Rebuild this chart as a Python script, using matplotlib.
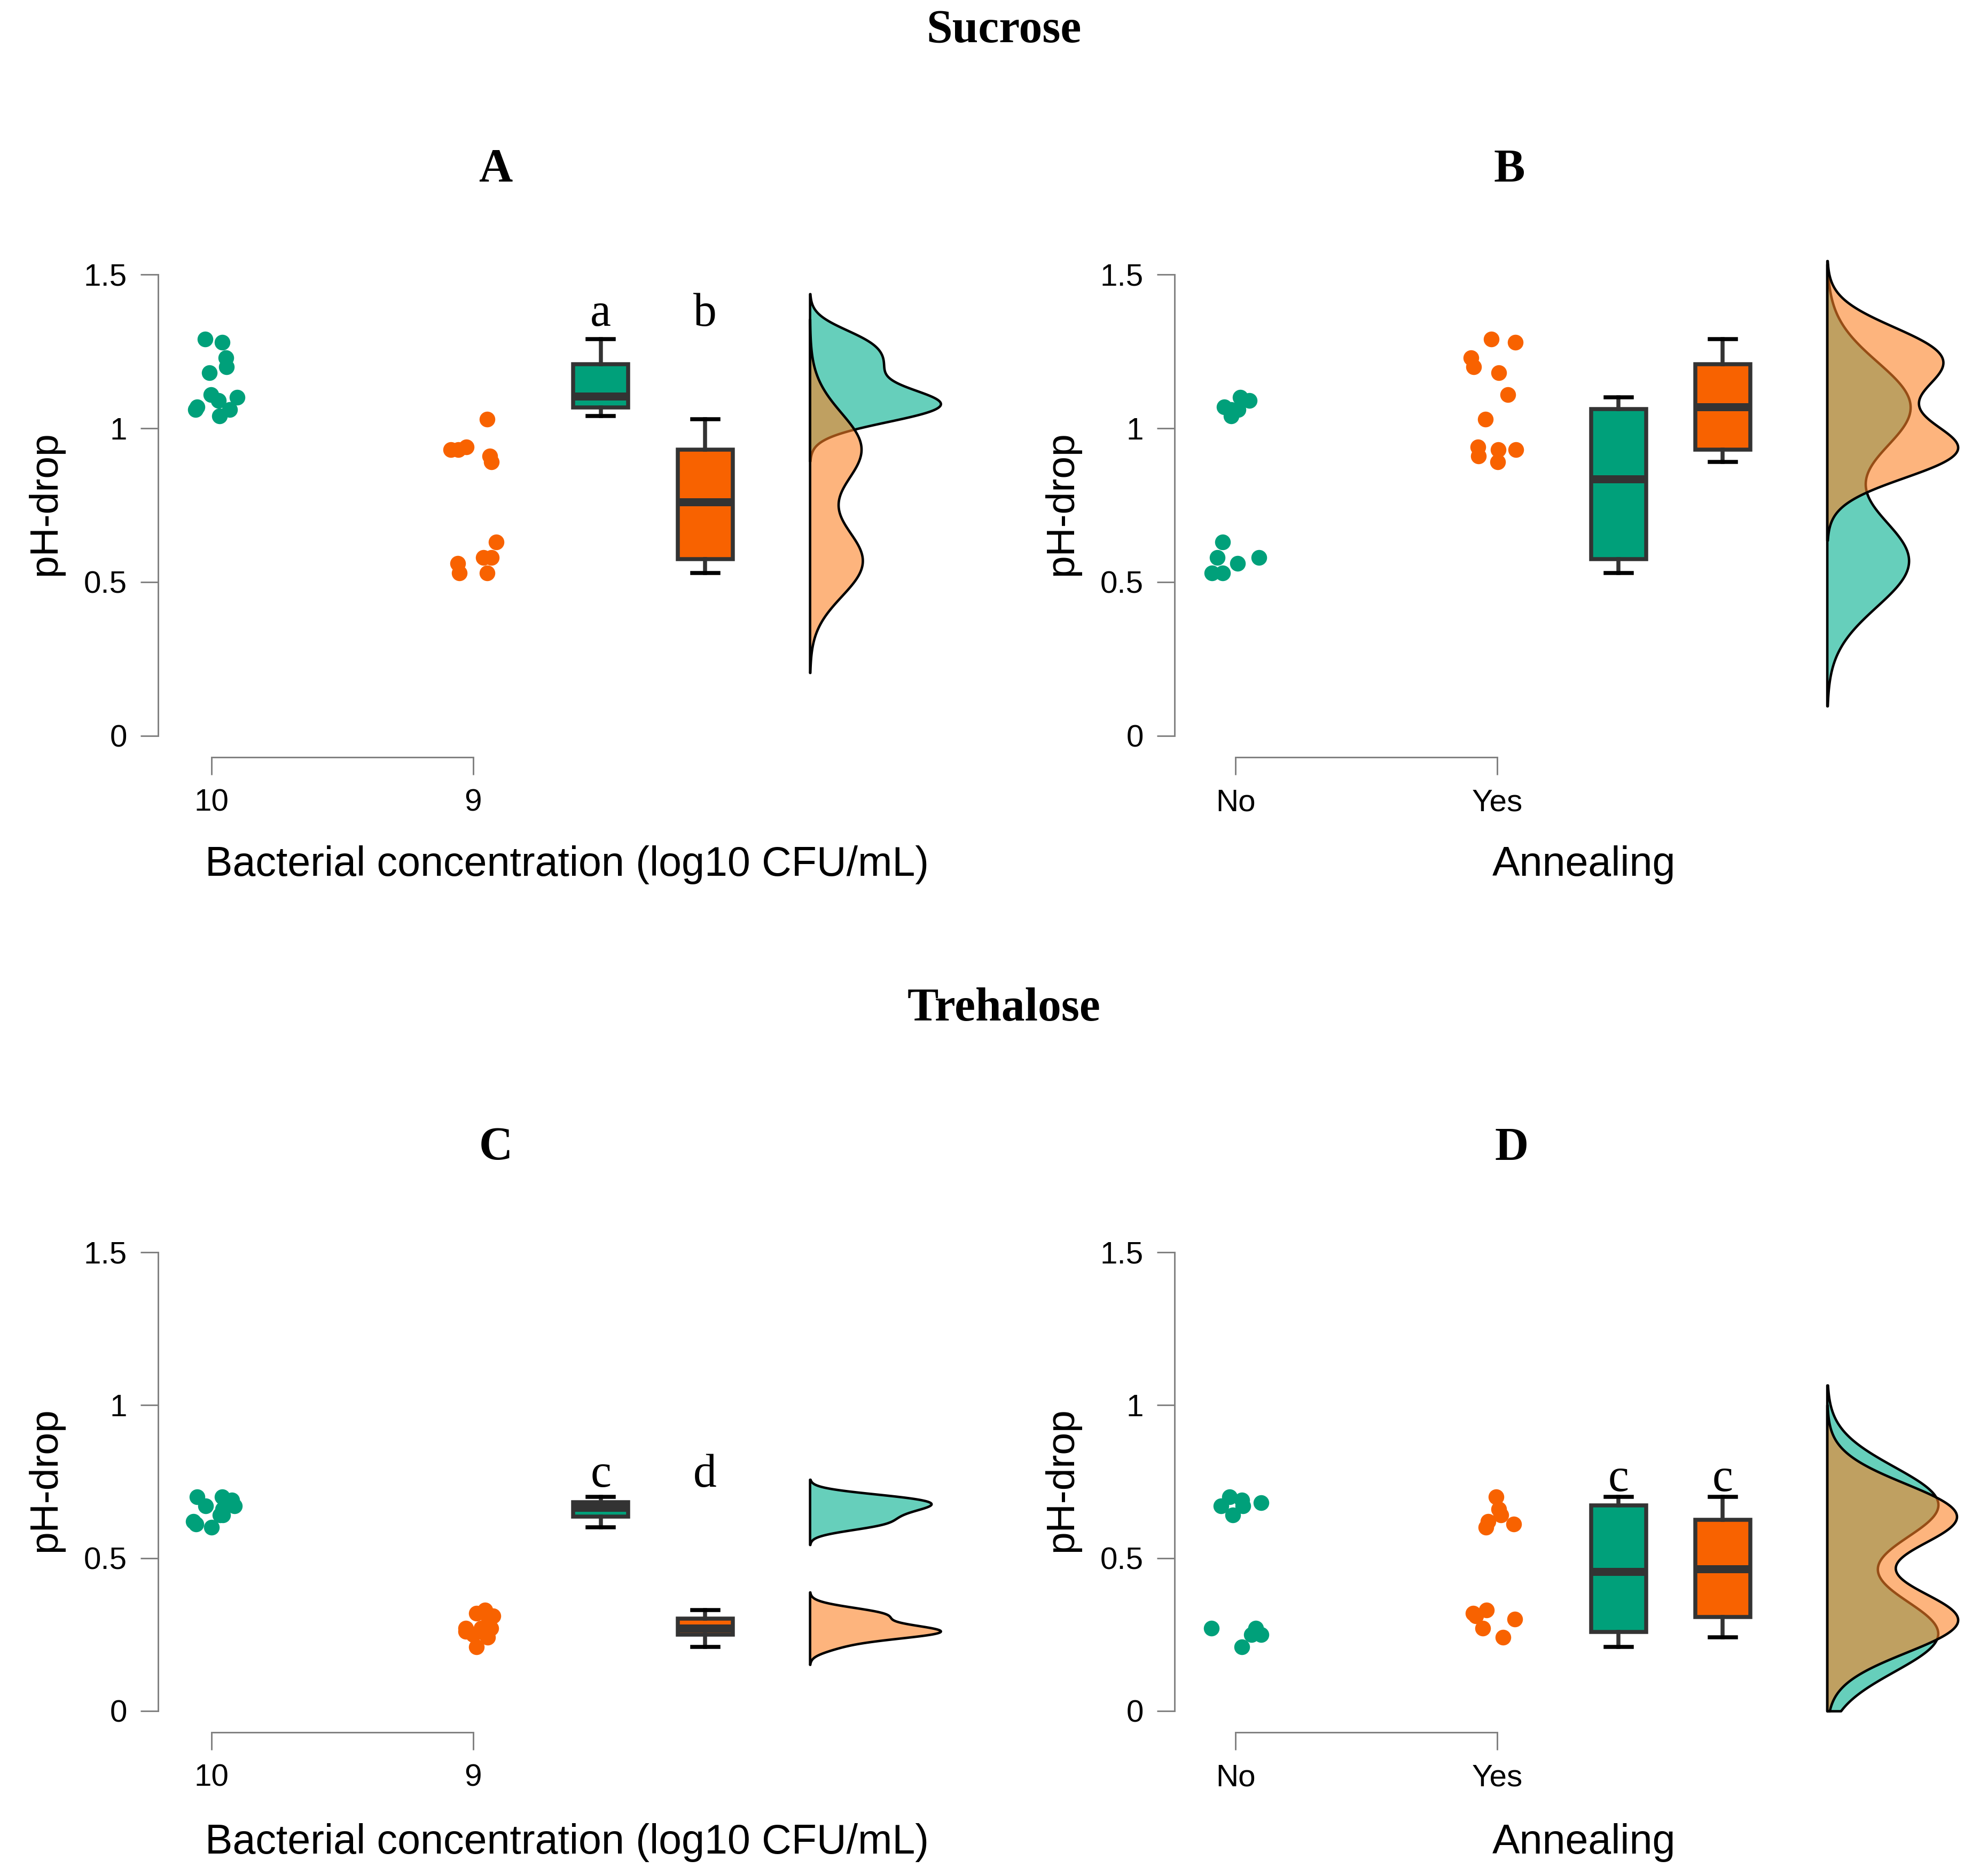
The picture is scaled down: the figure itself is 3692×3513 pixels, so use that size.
import numpy as np
import matplotlib.pyplot as plt
from matplotlib.colors import to_rgba

plt.rcParams['font.family'] = ['Liberation Sans', 'DejaVu Sans']

# pH-drop values, split by bacterial concentration (10 / 9) and annealing (yes / no)
# sucrose
s10_yes = [1.29, 1.28, 1.23, 1.20, 1.18, 1.11]
s10_no = [1.10, 1.09, 1.07, 1.06, 1.06, 1.04]
s9_yes = [1.03, 0.94, 0.93, 0.93, 0.91, 0.89]
s9_no = [0.63, 0.58, 0.58, 0.56, 0.53, 0.53]
# trehalose
t10_no = [0.70, 0.69, 0.68, 0.67, 0.67, 0.64]
t10_yes = [0.70, 0.66, 0.64, 0.62, 0.61, 0.60]
t9_no = [0.27, 0.21, 0.27, 0.25, 0.26, 0.25]
t9_yes = [0.32, 0.33, 0.30, 0.27, 0.24, 0.31]

conc_labels = ["10", "9"]
anneal_labels = ["No", "Yes"]
ytick_vals = [0, 0.5, 1, 1.5]
ytick_labels = ["0", "0.5", "1", "1.5"]
letters_A = ["a", "b"]
letters_C = ["c", "d"]
letters_D = ["c", "c"]

# horizontal jitter of the dots (as seen in the picture), same order as the values
jit_A1 = [-0.024, 0.04, 0.055, 0.057, -0.008, -0.002, 0.098, 0.027, -0.055, -0.061, 0.07, 0.03]
jit_A2 = [0.054, -0.027, -0.057, -0.085, 0.063, 0.069, 0.087, 0.039, 0.07, -0.059, -0.054, 0.053]
jit_B1 = [0.018, 0.053, -0.043, -0.016, 0.01, -0.016, -0.049, -0.069, 0.09, 0.008, -0.09, -0.049]
jit_B2 = [-0.023, 0.07, -0.10, -0.09, 0.006, 0.04, -0.045, -0.073, 0.003, 0.071, -0.071, 0.001]
jit_C1 = [-0.055, 0.078, 0.06, 0.088, -0.022, 0.043, 0.04, 0.042, 0.033, -0.069, -0.059, 0.0]
jit_C2 = [-0.028, 0.012, 0.03, 0.05, -0.028, 0.0, 0.012, 0.045, 0.06, 0.068, 0.055, 0.075]
jit_D1 = [-0.022, 0.024, 0.097, -0.055, 0.028, -0.01, -0.092, 0.024, 0.078, 0.097, 0.073, 0.06]
jit_D2 = [-0.005, 0.005, 0.014, -0.035, 0.063, -0.044, -0.092, -0.042, 0.067, -0.055, 0.022, -0.083]

green = "#00A07A"
orange = "#F86200"
dens_green = "#00AF8E"
dens_orange = "#FC8226"

W, H = 3692, 3513
fig = plt.figure(figsize=(W / 300, H / 300), dpi=300)


def axpos(left, right, top, bottom):
    return [left / W, 1 - bottom / H, (right - left) / W, (bottom - top) / H]


def kde(vals):
    v = np.array(vals)
    n = len(v)
    iqr = np.percentile(v, 75) - np.percentile(v, 25)
    bw = 0.9 * min(np.std(v, ddof=1), iqr / 1.34) * n ** -0.2
    # the plot region cuts the curves at 0
    grid = np.linspace(max(v.min() - 3 * bw, 0), v.max() + 3 * bw, 512)
    d = np.exp(-0.5 * ((grid[:, None] - v[None, :]) / bw) ** 2).sum(1)
    d = d / (n * bw * np.sqrt(2 * np.pi))
    return grid, d


def panel(ax, g1, g2, j1, j2, ticklabels, pos, letters, letter_y):
    ax.scatter(1 + np.array(j1), g1, s=50, color=green, lw=0, zorder=3)
    ax.scatter(2 + np.array(j2), g2, s=50, color=orange, lw=0, zorder=3)

    bp = ax.boxplot([g1, g2], positions=pos[:2], widths=0.21, patch_artist=True,
                    showfliers=False, manage_ticks=False, capwidths=0.1,
                    boxprops=dict(edgecolor="#333333", linewidth=1.8, joinstyle="miter"),
                    medianprops=dict(color="#333333", linewidth=3.6, solid_capstyle="butt"),
                    whiskerprops=dict(color="#333333", linewidth=1.8),
                    capprops=dict(color="black", linewidth=1.8))
    for patch, c in zip(bp["boxes"], [green, orange]):
        patch.set_facecolor(c)

    if letters:
        for x, t in zip(pos[:2], letters):
            ax.text(x, letter_y, t, ha="center", va="center", fontsize=21,
                    family="Liberation Serif")

    # half violins
    dens = [kde(g1), kde(g2)]
    m = max(d.max() for _, d in dens)
    base = pos[2]
    for (grid, d), c in zip(dens, [dens_green, dens_orange]):
        ax.fill_betweenx(grid, base, base + d / m * 0.5, facecolor=to_rgba(c, 0.6),
                         edgecolor="black", linewidth=1.1, zorder=2)

    ax.set_yticks(ytick_vals)
    ax.set_yticklabels(ytick_labels)
    ax.set_xticks([1, 2])
    ax.set_xticklabels(ticklabels)
    for s in ["top", "right"]:
        ax.spines[s].set_visible(False)
    ax.spines["left"].set_bounds(0, 1.5)
    ax.spines["bottom"].set_bounds(1, 2)
    for s in ["left", "bottom"]:
        ax.spines[s].set_color("#808080")
        ax.spines[s].set_linewidth(0.7)
    ax.tick_params(direction="out", length=8, width=0.7, color="#808080",
                   labelsize=14, pad=6)


posAC = [2.487, 2.886, 3.286]
posBD = [2.463, 2.861, 3.26]

axA = fig.add_axes(axpos(296, 1792.5, 485.2, 1417.7))
axA.set_xlim(0.796, 3.85)
axA.set_ylim(-0.069, 1.55)
panel(axA, s10_yes + s10_no, s9_yes + s9_no, jit_A1, jit_A2, conc_labels, posAC,
      letters_A, 1.37)

axB = fig.add_axes(axpos(2199, 3685.2, 485.2, 1417.7))
axB.set_xlim(0.767, 3.8)
axB.set_ylim(-0.069, 1.55)
panel(axB, s10_no + s9_no, s10_yes + s9_yes, jit_B1, jit_B2, anneal_labels, posBD,
      None, None)

axC = fig.add_axes(axpos(296, 1792.5, 2315.9, 3244.1))
axC.set_xlim(0.796, 3.85)
axC.set_ylim(-0.07, 1.55)
panel(axC, t10_no + t10_yes, t9_no + t9_yes, jit_C1, jit_C2, conc_labels, posAC,
      letters_C, 0.77)

axD = fig.add_axes(axpos(2199, 3685.2, 2315.9, 3244.1))
axD.set_xlim(0.767, 3.8)
axD.set_ylim(-0.07, 1.55)
panel(axD, t10_no + t9_no, t10_yes + t9_yes, jit_D1, jit_D2, anneal_labels, posBD,
      letters_D, 0.757)

# titles and axis labels
serif = dict(family="Liberation Serif", fontweight="bold", fontsize=21,
             ha="center", va="center")
fig.text(1879 / W, 1 - 57 / H, "Sucrose", **serif)
fig.text(1879 / W, 1 - 1889 / H, "Trehalose", **serif)
fig.text(928 / W, 1 - 318 / H, "A", **serif)
fig.text(2826 / W, 1 - 318 / H, "B", **serif)
fig.text(928 / W, 1 - 2150 / H, "C", **serif)
fig.text(2830 / W, 1 - 2150 / H, "D", **serif)

for y in [943, 2771]:
    fig.text(85 / W, 1 - y / H, "pH-drop", rotation=90, ha="center", va="center", fontsize=18)
    fig.text(1988 / W, 1 - y / H, "pH-drop", rotation=90, ha="center", va="center", fontsize=18)
for y in [1620, 3450]:
    fig.text(1062 / W, 1 - y / H, "Bacterial concentration (log10 CFU/mL)",
             ha="center", va="center", fontsize=18.5)
    fig.text(2966 / W, 1 - y / H, "Annealing", ha="center", va="center", fontsize=18.5)

plt.savefig("out.png", dpi=300)
